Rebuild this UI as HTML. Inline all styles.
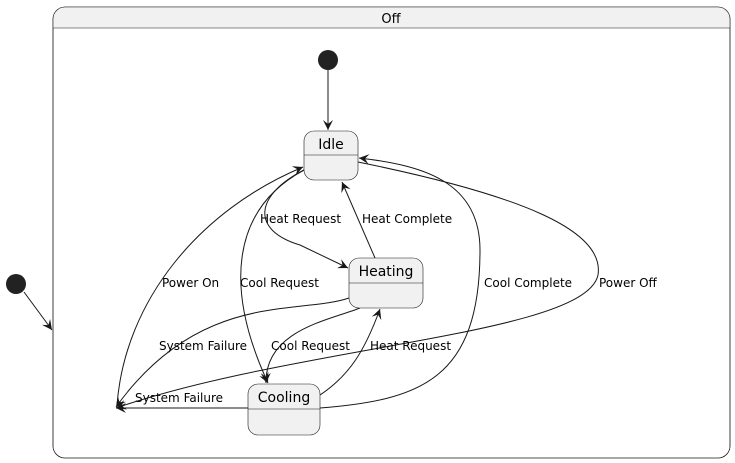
<!DOCTYPE html>
<html><head><meta charset="utf-8"><style>body{margin:0;background:#fff}svg{display:block}text{font-family:"DejaVu Sans","Liberation Sans",sans-serif}</style></head><body>
<svg width="735" height="463" viewBox="0 0 735 463" xmlns="http://www.w3.org/2000/svg">
<defs><marker id="a" markerWidth="12" markerHeight="10" refX="10" refY="5" orient="auto" markerUnits="userSpaceOnUse"><path d="M0,0 L10,5 L0,10 L4,5 Z" fill="#181818"/></marker></defs>
<rect x="53" y="7" width="677" height="451" rx="12" fill="#fff" stroke="#181818" stroke-width="0.6"/>
<path d="M53,28 V19 Q53,7 65,7 H718 Q730,7 730,19 V28 Z" fill="#f1f1f1"/>
<rect x="53" y="7" width="677" height="451" rx="12" fill="none" stroke="#181818" stroke-width="0.6"/>
<line x1="53" y1="28" x2="730" y2="28" stroke="#181818" stroke-width="0.6"/>
<text x="391" y="23" font-size="13" text-anchor="middle">Off</text>
<circle cx="16" cy="284" r="10" fill="#222"/>
<line x1="24" y1="292" x2="52" y2="330" stroke="#181818" marker-end="url(#a)"/>
<circle cx="328" cy="60" r="10" fill="#222"/>
<line x1="328" y1="70" x2="328" y2="130" stroke="#181818" marker-end="url(#a)"/>
<g fill="none" stroke="#181818" stroke-width="1">
<path d="M117,405 C125,300 200,210 303,167" marker-end="url(#a)"/>
<path d="M304,170 C255,195 250,230 300,245 L348,268" marker-end="url(#a)"/>
<path d="M304,170 C230,210 225,290 268,383" marker-end="url(#a)"/>
<path d="M375,258 L342,182" marker-end="url(#a)"/>
<path d="M349,298 C300,315 200,290 116,407" marker-end="url(#a)"/>
<path d="M360,308 C330,320 265,330 266,383" marker-end="url(#a)"/>
<path d="M320,395 C350,375 365,350 380,309" marker-end="url(#a)"/>
<path d="M320,408 C420,400 480,380 480,250 C480,180 420,165 359,158" marker-end="url(#a)"/>
<path d="M358,162 C520,195 605,230 598,275 C585,335 300,345 116,408" marker-end="url(#a)"/>
<path d="M248,408 L116,408" marker-end="url(#a)"/>
</g>
<g fill="#f1f1f1" stroke="#181818" stroke-width="0.6">
<rect x="304" y="131" width="54" height="49" rx="10"/>
<rect x="349" y="258" width="74" height="50" rx="10"/>
<rect x="248" y="384" width="72" height="51" rx="10"/>
</g>
<g stroke="#181818" stroke-width="0.6">
<line x1="304" y1="155" x2="358" y2="155"/>
<line x1="349" y1="283" x2="423" y2="283"/>
<line x1="248" y1="409" x2="320" y2="409"/>
</g>
<g font-size="14" text-anchor="middle">
<text x="331" y="149">Idle</text>
<text x="386" y="276">Heating</text>
<text x="284" y="402">Cooling</text>
</g>
<g font-size="12">
<text x="162" y="287">Power On</text>
<text x="240" y="287">Cool Request</text>
<text x="260" y="223">Heat Request</text>
<text x="362" y="223">Heat Complete</text>
<text x="159" y="350">System Failure</text>
<text x="271" y="350">Cool Request</text>
<text x="370" y="350">Heat Request</text>
<text x="484" y="287">Cool Complete</text>
<text x="599" y="287">Power Off</text>
<text x="135" y="402">System Failure</text>
</g>
</svg>
</body></html>
